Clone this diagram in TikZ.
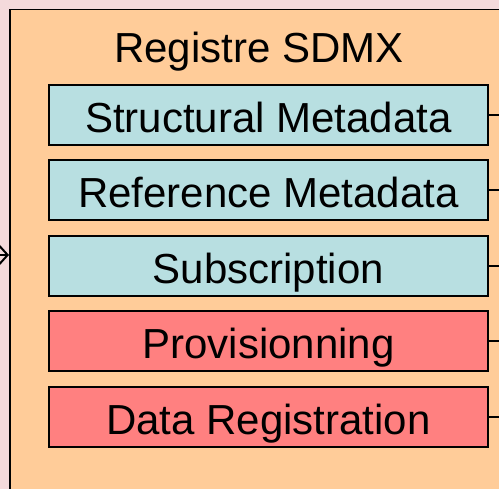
\documentclass[tikz,border=0pt]{standalone}
\usepackage{fontspec}
\setmainfont{Liberation Sans}
\usetikzlibrary{arrows.meta,positioning}

\definecolor{fondrose}{HTML}{F4DADB}
\definecolor{orangereg}{HTML}{FFCC99}
\definecolor{bleureg}{HTML}{B8DFE1}
\definecolor{rougereg}{HTML}{FF8080}

\tikzset{
  regbox/.style={draw=black,line width=1.5pt,minimum width=439pt,minimum height=60pt,
    inner sep=0pt,text height=36pt,text depth=0pt,font=\fontsize{42}{48}\selectfont},
  lien/.style={draw=black,line width=1.5pt}
}

\begin{document}
\begin{tikzpicture}[x=1pt,y=-1pt]
% page background (fixes the margins)
\fill[fondrose] (0,0) rectangle (499,489);
\useasboundingbox (0,0) rectangle (499,489);
\clip (0,0) rectangle (499,489);

% the registry itself, running off the page on the right and at the bottom
\node[draw=black,line width=1.5pt,fill=orangereg,minimum width=540pt,minimum height=530pt,
  anchor=north west,inner sep=0pt] (registre) at (9,9) {};
\node[font=\fontsize{42}{48}\selectfont,anchor=base] (titre) at (259,63) {Registre SDMX};

% right edge, where the links leave the picture
\coordinate (bord) at (505,0);

% the five services
\foreach \nom/\txt/\y/\col in {struct/Structural Metadata/115/bleureg,
                               refmeta/Reference Metadata/190/bleureg,
                               abonn/Subscription/266/bleureg,
                               provis/Provisionning/341/rougereg,
                               dataenr/Data Registration/417/rougereg} {
  \node[regbox,fill=\col] (\nom) at (268.5,\y) {\txt};
  \draw[lien] (\nom.east) -- (\nom.east -| bord);
}

% incoming link on the left
\coordinate (entree) at (-12,255);
\draw[lien,line width=2pt,-{Straight Barb[length=9pt,width=20pt]}] (entree) -- (entree -| registre.west);
\end{tikzpicture}
\end{document}
